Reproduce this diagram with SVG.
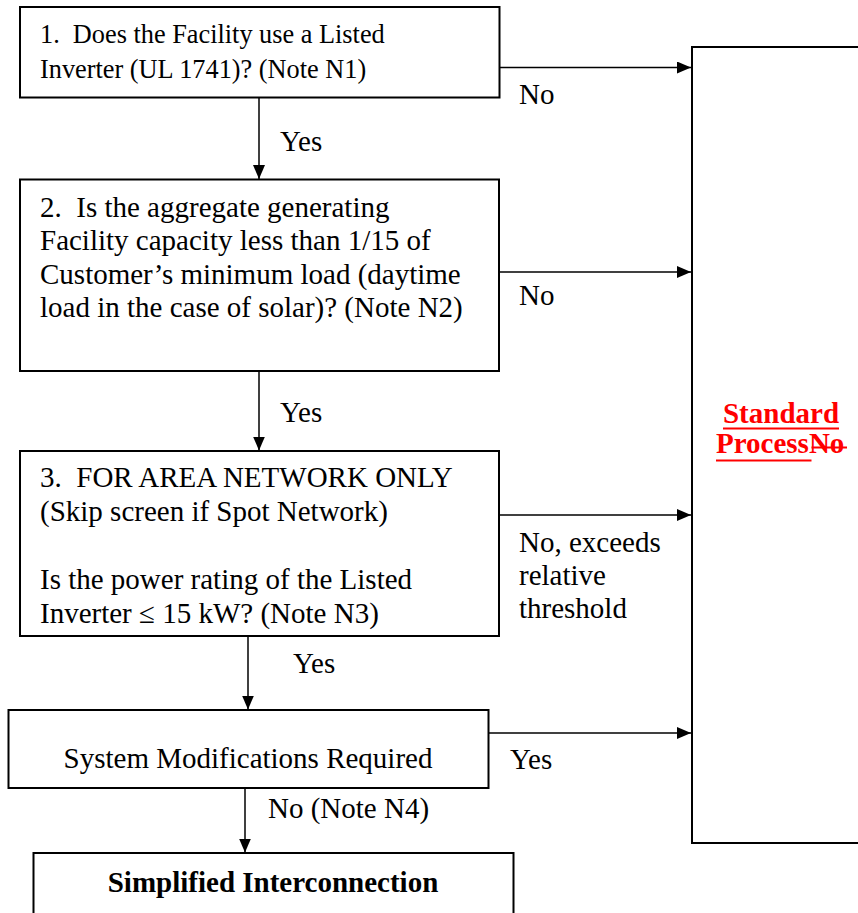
<svg xmlns="http://www.w3.org/2000/svg" width="858" height="913" viewBox="0 0 858 913">
<defs>
<style>
.box{fill:#fff;stroke:#000;stroke-width:2}
.t{font-family:"Liberation Serif","Times New Roman",serif;font-size:29px;fill:#000}
.t1{font-family:"Liberation Serif","Times New Roman",serif;font-size:26.3px;fill:#000}
.b{font-family:"Liberation Serif","Times New Roman",serif;font-size:29px;font-weight:bold}
.red{fill:#f00}
.c{stroke:#000;stroke-width:1.5;fill:none;marker-end:url(#ah)}
.ul{stroke:#f00;stroke-width:2.2}
</style>
<marker id="ah" viewBox="0 0 14 12" refX="14" refY="6" markerWidth="14" markerHeight="12" markerUnits="userSpaceOnUse" orient="auto">
<path d="M0,0 L14,6 L0,12 Z" fill="#000"/>
</marker>
</defs>
<rect width="858" height="913" fill="#fff"/>
<g id="n-standard">
<rect class="box" x="692" y="47" width="180" height="796"/>
<text class="b red" x="781" y="423" text-anchor="middle">Standard</text>
<line class="ul" x1="723" y1="428.5" x2="839" y2="428.5"/>
<text class="b red" x="716" y="453">Process<tspan>No</tspan></text>
<line class="ul" x1="716" y1="460.5" x2="811.5" y2="460.5"/>
<line class="ul" x1="811.5" y1="447.5" x2="847" y2="447.5"/>
</g>
<g id="n1">
<rect class="box" x="20" y="7" width="479.5" height="90.5"/>
<text class="t1" x="40" y="43" xml:space="preserve">1.  Does the Facility use a Listed</text>
<text class="t1" x="40" y="77.5">Inverter (UL 1741)? (Note N1)</text>
</g>
<g id="n2">
<rect class="box" x="20" y="179.5" width="479" height="191.5"/>
<text class="t" x="40" y="217" xml:space="preserve">2.  Is the aggregate generating</text>
<text class="t" x="40" y="250">Facility capacity less than 1/15 of</text>
<text class="t" x="40" y="283.5">Customer’s minimum load (daytime</text>
<text class="t" x="40" y="317">load in the case of solar)? (Note N2)</text>
</g>
<g id="n3">
<rect class="box" x="20" y="451" width="479" height="185"/>
<text class="t" x="40" y="487" xml:space="preserve">3.  FOR AREA NETWORK ONLY</text>
<text class="t" x="40" y="521">(Skip screen if Spot Network)</text>
<text class="t" x="40" y="589">Is the power rating of the Listed</text>
<text class="t" x="40" y="623">Inverter ≤ 15 kW? (Note N3)</text>
</g>
<g id="n4">
<rect class="box" x="8.5" y="710" width="480" height="78"/>
<text class="t" x="248" y="768" text-anchor="middle">System Modifications Required</text>
</g>
<g id="n5">
<rect class="box" x="33.5" y="853" width="480" height="80"/>
<text class="b" x="273" y="892" text-anchor="middle">Simplified Interconnection</text>
</g>
<g id="connectors">
<line class="c" x1="259" y1="98" x2="259" y2="179"/>
<line class="c" x1="499.5" y1="67.5" x2="691" y2="67.5"/>
<line class="c" x1="259" y1="371.5" x2="259" y2="450.5"/>
<line class="c" x1="499" y1="272" x2="691" y2="272"/>
<line class="c" x1="248" y1="636.5" x2="248" y2="709.5"/>
<line class="c" x1="499" y1="515" x2="691" y2="515"/>
<line class="c" x1="245" y1="788.5" x2="245" y2="852.5"/>
<line class="c" x1="488.5" y1="733" x2="691" y2="733"/>
<text class="t" x="519" y="104">No</text>
<text class="t" x="280" y="151">Yes</text>
<text class="t" x="519" y="305">No</text>
<text class="t" x="280" y="422">Yes</text>
<text class="t" x="519" y="552">No, exceeds</text>
<text class="t" x="519" y="585">relative</text>
<text class="t" x="519" y="618">threshold</text>
<text class="t" x="293" y="673">Yes</text>
<text class="t" x="510" y="769">Yes</text>
<text class="t" x="268" y="818">No (Note N4)</text>
</g>
</svg>
